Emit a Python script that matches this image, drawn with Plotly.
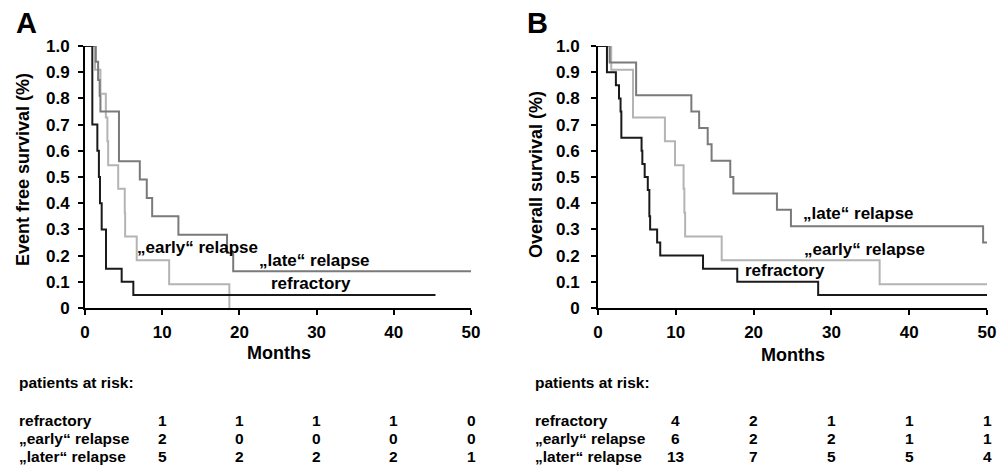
import plotly.graph_objects as go

# ---------------- data ----------------
# Panel A: event free survival (Kaplan-Meier steps)
refr_A_t = [0, 0.95, 1.6, 1.8, 1.94, 2.16, 2.72, 4.75, 6.26, 45.4]
refr_A_s = [1.0, 0.70, 0.60, 0.50, 0.40, 0.30, 0.15, 0.10, 0.05, 0.05]
early_A_t = [0, 1.3, 2.0, 2.7, 2.9, 3.0, 4.3, 5.15, 5.2, 6.7, 10.9, 18.7]
early_A_s = [1.0, 0.909, 0.818, 0.727, 0.636, 0.545, 0.455, 0.364, 0.273, 0.182, 0.091, 0.0]
late_A_t = [0, 1.4, 1.7, 1.9, 2.0, 4.4, 7.1, 8.0, 8.7, 12.1, 18.4, 19.2, 50]
late_A_s = [1.0, 0.94, 0.87, 0.81, 0.75, 0.56, 0.49, 0.42, 0.35, 0.28, 0.21, 0.14, 0.14]

# Panel B: overall survival
refr_B_t = [0, 1.15, 2.3, 2.7, 2.9, 3.0, 5.6, 5.7, 6.0, 6.4, 6.6, 6.7, 7.6, 8.0, 13.5, 17.9, 28.3, 50]
refr_B_s = [1.0, 0.90, 0.85, 0.80, 0.75, 0.65, 0.60, 0.55, 0.50, 0.45, 0.35, 0.30, 0.25, 0.20, 0.15, 0.10, 0.05, 0.05]
early_B_t = [0, 1.7, 4.5, 8.6, 9.9, 11.0, 11.1, 11.2, 15.9, 36.2, 50]
early_B_s = [1.0, 0.909, 0.727, 0.636, 0.545, 0.455, 0.364, 0.273, 0.182, 0.091, 0.091]
late_B_t = [0, 1.5, 4.9, 12.0, 13.0, 14.1, 14.6, 17.0, 17.4, 23.0, 24.8, 49.5, 50]
late_B_s = [1.0, 0.9375, 0.8125, 0.75, 0.6875, 0.625, 0.5625, 0.5, 0.4375, 0.375, 0.3125, 0.25, 0.25]

# axis ticks
x_ticks = [0, 10, 20, 30, 40, 50]
y_ticks = [0, 0.1, 0.2, 0.3, 0.4, 0.5, 0.6, 0.7, 0.8, 0.9, 1.0]
y_ticktext = ["0", "0.1", "0.2", "0.3", "0.4", "0.5", "0.6", "0.7", "0.8", "0.9", "1.0"]

# patients at risk
risk_times = [10, 20, 30, 40, 50]
risk_groups = ["refractory", "\u201eearly\u201c relapse", "\u201elater\u201c relapse"]
risk_A = [[1, 1, 1, 1, 0], [2, 0, 0, 0, 0], [5, 2, 2, 2, 1]]
risk_B = [[4, 2, 1, 1, 1], [6, 2, 2, 1, 1], [13, 7, 5, 5, 4]]

# ---------------- figure ----------------
W, H = 1005, 465
OFF = 8  # page body margin in the browser
FONT = "Liberation Sans, Arial, sans-serif"
C_REFR = "#1a1a1a"
C_EARLY = "#b4b4b4"
C_LATE = "#7a7a7a"


def px_x(p):
    return (p - OFF) / W


def px_y(p):
    return (H - (p - OFF)) / H


fig = go.Figure()


def add_curve(t, s, color, xa, ya):
    fig.add_trace(go.Scatter(x=t, y=s, mode="lines", line=dict(color=color, width=2, shape="hv"),
                             xaxis=xa, yaxis=ya, showlegend=False, hoverinfo="skip"))


add_curve(early_A_t, early_A_s, C_EARLY, "x", "y")
add_curve(late_A_t, late_A_s, C_LATE, "x", "y")
add_curve(refr_A_t, refr_A_s, C_REFR, "x", "y")
add_curve(early_B_t, early_B_s, C_EARLY, "x2", "y2")
add_curve(late_B_t, late_B_s, C_LATE, "x2", "y2")
add_curve(refr_B_t, refr_B_s, C_REFR, "x2", "y2")

y_dom = [px_y(308), px_y(46)]
axis_common = dict(showline=True, linecolor="black", linewidth=2, ticks="outside", ticklen=5,
                   tickwidth=2, tickcolor="black", showgrid=False, zeroline=False,
                   automargin=False,
                   tickfont=dict(family=FONT, size=17, color="black", weight="bold"))

fig.update_layout(
    template="none",
    width=W, height=H, autosize=False,
    margin=dict(l=0, r=0, t=0, b=0, pad=0, autoexpand=False),
    paper_bgcolor="white", plot_bgcolor="white",
    font=dict(family=FONT, color="black"),
    xaxis=dict(domain=[px_x(85), px_x(471)], range=[0, 50], tickvals=x_ticks,
               anchor="y", ticklabelstandoff=3, **axis_common),
    yaxis=dict(domain=y_dom, range=[0, 1], tickvals=y_ticks, ticktext=y_ticktext,
               anchor="x", ticklabelstandoff=5, **axis_common),
    xaxis2=dict(domain=[px_x(598), px_x(987)], range=[0, 50], tickvals=x_ticks,
                anchor="y2", ticklabelstandoff=3, **axis_common),
    yaxis2=dict(domain=y_dom, range=[0, 1], tickvals=y_ticks, ticktext=y_ticktext,
                anchor="x2", ticklabelstandoff=8, **axis_common),
)

ann = []


def txt(text, x, y, size, xref="paper", yref="paper", xanchor="center", angle=0):
    ann.append(dict(text=text, x=x, y=y, xref=xref, yref=yref, xanchor=xanchor, yanchor="middle",
                    showarrow=False, textangle=angle,
                    font=dict(family=FONT, size=size, color="black", weight="bold")))


# panel letters
txt("<b>A</b>", px_x(26), px_y(23), 29)
txt("<b>B</b>", px_x(537), px_y(23), 29)
# y titles
txt("<b>Event free survival (%)</b>", px_x(23), px_y(170), 18, angle=-90)
txt("<b>Overall survival (%)</b>", px_x(536), px_y(175), 18, angle=-90)
# x titles
txt("<b>Months</b>", px_x(279), px_y(353), 18)
txt("<b>Months</b>", px_x(793), px_y(355), 18)
# curve labels A
txt("<b>\u201eearly\u201c relapse</b>", 14.6, 0.23, 17, xref="x", yref="y")
txt("<b>\u201elate\u201c relapse</b>", 29.7, 0.183, 17, xref="x", yref="y")
txt("<b>refractory</b>", 29.3, 0.095, 17, xref="x", yref="y")
# curve labels B
txt("<b>\u201elate\u201c relapse</b>", 33.5, 0.36, 17, xref="x2", yref="y2")
txt("<b>\u201eearly\u201c relapse</b>", 34.3, 0.223, 17, xref="x2", yref="y2")
txt("<b>refractory</b>", 24.0, 0.144, 17, xref="x2", yref="y2")

# patients at risk tables
row_y = [420, 438, 456]
for left, xr, risk in [(17, "x", risk_A), (533, "x2", risk_B)]:
    txt("<b>patients at risk:</b>", px_x(left), px_y(382), 15.5, xanchor="left")
    for gi, g in enumerate(risk_groups):
        txt("<b>" + g + "</b>", px_x(left), px_y(row_y[gi]), 15.5, xanchor="left")
        for ti, t in enumerate(risk_times):
            txt("<b>%d</b>" % risk[gi][ti], t, px_y(row_y[gi]), 15.5, xref=xr)

fig.update_layout(annotations=ann)
fig.write_html("out.html")
